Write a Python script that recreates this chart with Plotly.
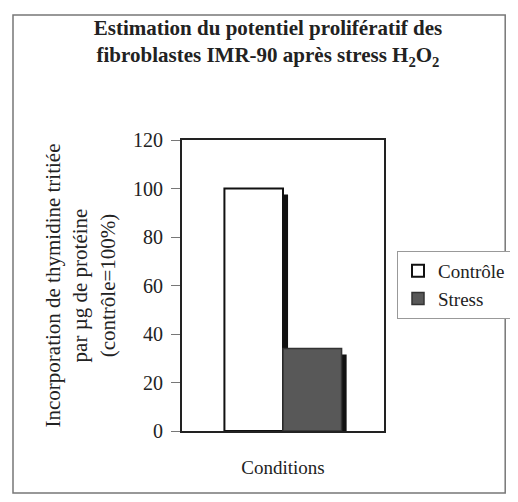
import plotly.graph_objects as go

categories = ["Conditions"]
series_names = ["Contrôle", "Stress"]
values_controle = [100]
values_stress = [34]
y_ticks = [0, 20, 40, 60, 80, 100, 120]

FONT = "Liberation Serif, Times New Roman, serif"
depth = 2.5  # shadow drop in data units
x = [0]

W, H = 510, 486  # page body adds an 8px margin on each side
L, R, T, B = 174, 134, 132, 63
pw, ph = W - L - R, H - T - B

fig = go.Figure()
# 3D-style shadows (drawn behind)
fig.add_trace(go.Bar(x=x, y=[v - depth for v in values_controle], offset=-0.265, width=0.29,
                     marker=dict(color="#111111", line=dict(width=0)), showlegend=False, hoverinfo="skip"))
fig.add_trace(go.Bar(x=x, y=[v - depth for v in values_stress], offset=0.025, width=0.29,
                     marker=dict(color="#111111", line=dict(width=0)), showlegend=False, hoverinfo="skip"))
# main bars
fig.add_trace(go.Bar(x=x, y=values_controle, name=series_names[0], offset=-0.29, width=0.29,
                     marker=dict(color="white", line=dict(color="#111111", width=2))))
fig.add_trace(go.Bar(x=x, y=values_stress, name=series_names[1], offset=0.0, width=0.29,
                     marker=dict(color="#585858", line=dict(color="#333333", width=1.5))))

fig.update_layout(
    width=W, height=H,
    barmode="overlay",
    paper_bgcolor="white", plot_bgcolor="white",
    margin=dict(l=L, r=R, t=T, b=B, pad=0, autoexpand=False),
    font=dict(family=FONT, size=20, color="#222222"),
    title=dict(
        text="<b>Estimation du potentiel prolifératif des<br>fibroblastes IMR-90 après stress H<sub>2</sub>O<sub>2</sub></b>",
        x=260 / W, xanchor="center", y=1 - 27 / H, yanchor="top",
        font=dict(family=FONT, size=21, color="#222222"),
    ),
    xaxis=dict(range=[-0.5, 0.5], showticklabels=False, ticks="", showgrid=False, zeroline=False,
               automargin=False,
               showline=True, linecolor="#222222", linewidth=2, mirror=True,
               title=dict(text="Conditions", standoff=29, font=dict(family=FONT, size=19))),
    yaxis=dict(range=[0, 120], tickvals=y_ticks, ticks="outside", ticklen=9, tickcolor="#777777",
               ticklabelstandoff=4,
               automargin=False,
               showgrid=False, zeroline=False, showline=True, linecolor="#222222", linewidth=2, mirror=True,
               tickfont=dict(family=FONT, size=20),
               title=dict(text="Incorporation de thymidine tritiée<br>par µg de protéine<br>(contrôle=100%)",
                          standoff=12, font=dict(family=FONT, size=21))),
    legend=dict(x=(389 - L) / pw, xanchor="left", y=(T + ph - 243) / ph, yanchor="top",
                bordercolor="#999999", borderwidth=1, bgcolor="white",
                font=dict(family=FONT, size=19), tracegroupgap=4, itemwidth=30),
    shapes=[dict(type="rect", xref="paper", yref="paper",
                 x0=-(L - 5) / pw, x1=1.6, y0=-(B - 1) / ph, y1=1 + (T - 7) / ph,
                 line=dict(color="#777777", width=1.5), layer="below")],
)

fig.write_html("out.html")
